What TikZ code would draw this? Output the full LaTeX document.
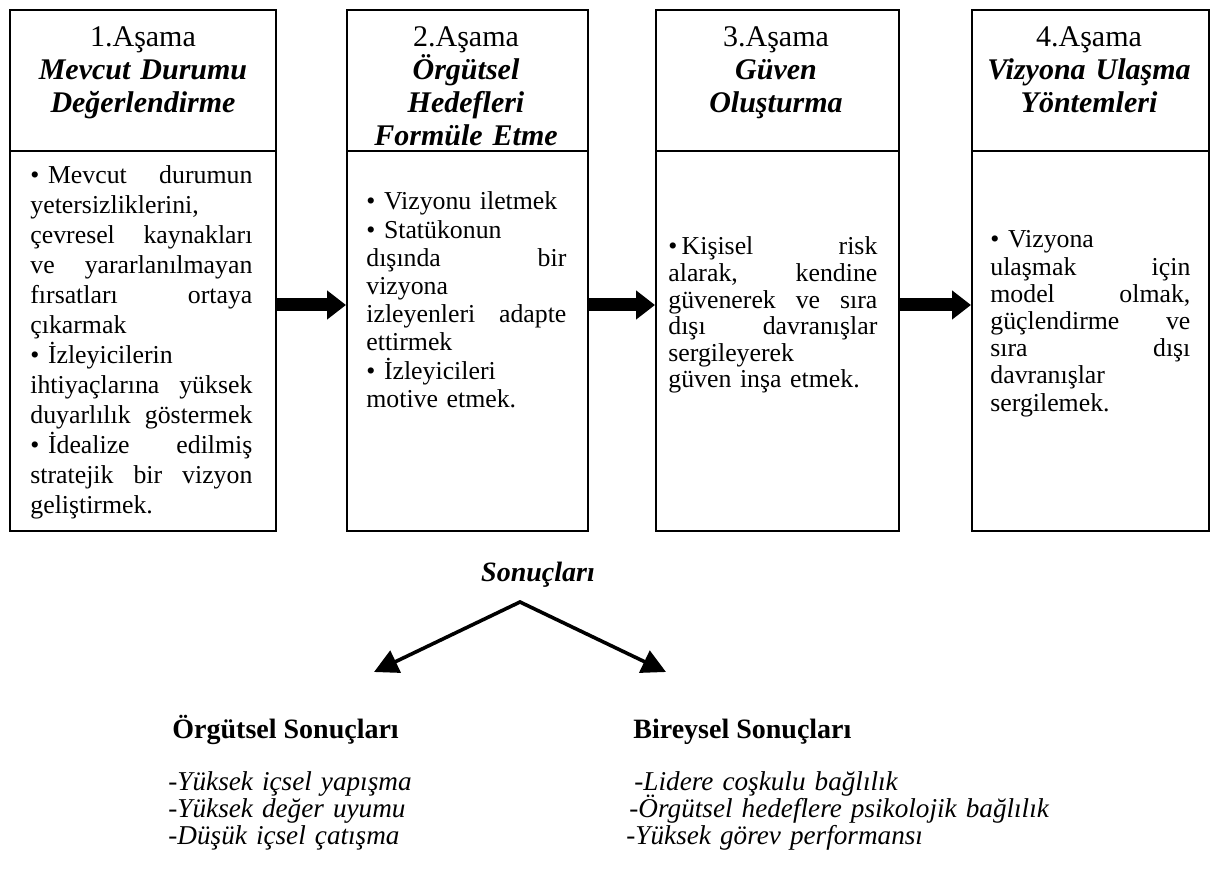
\documentclass[tikz,border=0pt]{standalone}
\usepackage{fontspec}
\setmainfont{Liberation Serif}
\usetikzlibrary{arrows.meta,positioning}
\hyphenpenalty=10000
\exhyphenpenalty=10000
\lineskiplimit=-6pt

\begin{document}
\begin{tikzpicture}[
        x=0.5pt, y=-0.5pt,
        frame/.style={rectangle, draw, line width=1pt, inner sep=0pt, anchor=north west},
        hdrtext/.style={align=center, inner sep=0pt, anchor=base, font=\fontsize{15}{16.5}\selectfont},
        bodytext/.style={align=left, inner sep=0pt, anchor=base west},
        bigarrow/.style={line width=6.5pt, -{Triangle[length=9.5pt,width=14pt]}},
        splitarrow/.style={line width=1.8pt, line join=miter, {Triangle[length=12pt,width=12pt]}-{Triangle[length=12pt,width=12pt]}},
        headtext/.style={anchor=base west, inner sep=0pt, font=\fontsize{14}{16}\selectfont\bfseries},
        listtext/.style={align=left, text width=220pt, inner sep=0pt, anchor=base west, font=\fontsize{13.6}{13.6}\selectfont\itshape, execute at begin node={\lineskiplimit=-10pt\relax}},
    ]
        \useasboundingbox (0,0) rectangle (1210,881);

        % Stage frames (header + body)
        \node[frame, minimum width=133pt, minimum height=70.5pt] (H1) at (9,9) {};
        \node[frame, minimum width=133pt, minimum height=190pt] (B1) at (9,150) {};
        \node[frame, minimum width=120.5pt, minimum height=70.5pt] (H2) at (346,9) {};
        \node[frame, minimum width=120.5pt, minimum height=190pt] (B2) at (346,150) {};
        \node[frame, minimum width=121.5pt, minimum height=70.5pt] (H3) at (655,9) {};
        \node[frame, minimum width=121.5pt, minimum height=190pt] (B3) at (655,150) {};
        \node[frame, minimum width=118.5pt, minimum height=70.5pt] (H4) at (971,9) {};
        \node[frame, minimum width=118.5pt, minimum height=190pt] (B4) at (971,150) {};

        % Stage titles
        \node[hdrtext, text width=130pt] (T1) at (143,47) {1.Aşama\\\textbf{\textit{Mevcut Durumu}}\\\textbf{\textit{Değerlendirme}}};
        \node[hdrtext, text width=118pt] (T2) at (466,47) {2.Aşama\\\textbf{\textit{Örgütsel}}\\\textbf{\textit{Hedefleri}}\\\textbf{\textit{Formüle Etme}}};
        \node[hdrtext, text width=118pt] (T3) at (776,47) {3.Aşama\\\textbf{\textit{Güven}}\\\textbf{\textit{Oluşturma}}};
        \node[hdrtext, text width=116pt] (T4) at (1089,47) {4.Aşama\\\textbf{\textit{Vizyona Ulaşma}}\\\textbf{\textit{Yöntemleri}}};

        % Stage contents
        \node[bodytext, text width=111pt, font=\fontsize{12.9}{15}\selectfont] (C1) at (30,184) {%
            \textbullet\ Mevcut \hfill durumun\\
            yetersizliklerini,\\
            çevresel \hfill kaynakları\\
            ve \hfill yararlanılmayan\\
            fırsatları \hfill ortaya\\
            çıkarmak\\
            \textbullet\ İzleyicilerin\\
            ihtiyaçlarına \hfill yüksek\\
            duyarlılık \hfill göstermek\\
            \textbullet\ İdealize \hfill edilmiş\\
            stratejik \hfill bir \hfill vizyon\\
            geliştirmek.};
        \node[bodytext, text width=100pt, font=\fontsize{12.9}{14.1}\selectfont] (C2) at (366,210) {%
            \textbullet\ Vizyonu iletmek\\
            \textbullet\ Statükonun\\
            dışında \hfill bir\\
            vizyona\\
            izleyenleri \hfill adapte\\
            ettirmek\\
            \textbullet\ İzleyicileri\\
            motive etmek.};
        \node[bodytext, text width=104.5pt, font=\fontsize{12.9}{13.3}\selectfont] (C3) at (668,255) {%
            \textbullet\,Kişisel \hfill risk\\
            alarak, \hfill kendine\\
            güvenerek \hfill ve \hfill sıra\\
            dışı \hfill davranışlar\\
            sergileyerek\\
            güven inşa etmek.};
        \node[bodytext, text width=100pt, font=\fontsize{12.9}{13.6}\selectfont] (C4) at (990,248) {%
            \textbullet\ Vizyona\\
            ulaşmak \hfill için\\
            model \hfill olmak,\\
            güçlendirme \hfill ve\\
            sıra \hfill dışı\\
            davranışlar\\
            sergilemek.};

        % Flow between stages
        \coordinate (ROW) at (0,305);
        \draw[bigarrow] (B1.east |- ROW) -- (B2.west |- ROW);
        \draw[bigarrow] (B2.east |- ROW) -- (B3.west |- ROW);
        \draw[bigarrow] (B3.east |- ROW) -- (B4.west |- ROW);

        % Results split
        \node[font=\fontsize{14}{16}\selectfont\bfseries\itshape, inner sep=0pt] (RES) at (538,575) {Sonuçları};
        \coordinate (APEX) at (520,602);
        \coordinate (LTIP) at (374,672);
        \coordinate (RTIP) at (666,672);
        \draw[splitarrow] (LTIP) -- (APEX) -- (RTIP);

        \node[headtext] (ORG) at (172,738) {Örgütsel Sonuçları};
        \node[headtext] (IND) at (633,738) {Bireysel Sonuçları};

        \node[listtext] (ORGL) at (168,790) {-Yüksek içsel yapışma\\-Yüksek değer uyumu\\-Düşük içsel çatışma};
        \node[listtext] (INDL) at (626,790) {\hspace*{4pt}-Lidere coşkulu bağlılık\\\hspace*{1.5pt}-Örgütsel hedeflere psikolojik bağlılık\\-Yüksek görev performansı};
    \end{tikzpicture}
\end{document}
